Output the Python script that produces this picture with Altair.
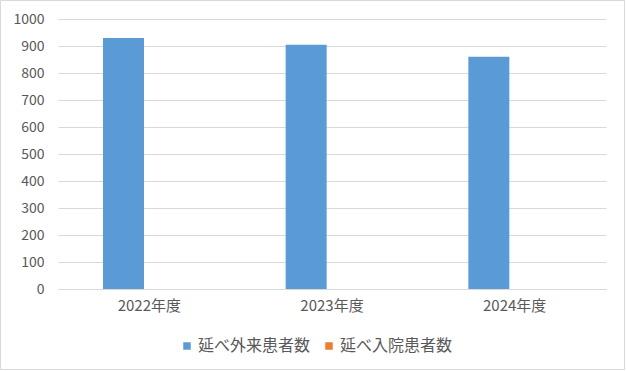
import altair as alt
import pandas as pd

years = ["2022年度", "2023年度", "2024年度"]
series = ["延べ外来患者数", "延べ入院患者数"]
outpatients = [930, 905, 860]
inpatients = [0, 0, 0]
colors = ["#5B9BD5", "#ED7D31"]

rows = []
for i, y in enumerate(years):
    rows.append({"year": y, "series": series[0], "value": outpatients[i]})
    rows.append({"year": y, "series": series[1], "value": inpatients[i]})
df = pd.DataFrame(rows)

FONT = "Noto Sans CJK JP"
TXT = "#595959"
GRID = "#D9D9D9"

bars = alt.Chart(df).mark_bar().encode(
    x=alt.X("year:N", sort=years, title=None,
            scale=alt.Scale(paddingInner=0, paddingOuter=0),
            axis=alt.Axis(labelAngle=0, ticks=False, domain=True, domainColor=GRID,
                          labelPadding=9, labelFontSize=15, labelColor=TXT, labelFont=FONT)),
    xOffset=alt.XOffset("series:N", sort=series,
                        scale=alt.Scale(range=[45, 127], paddingInner=0, paddingOuter=0)),
    y=alt.Y("value:Q", title=None,
            scale=alt.Scale(domain=[0, 1000], nice=False),
            axis=alt.Axis(values=list(range(0, 1001, 100)), format="d", ticks=False, domain=False,
                          grid=True, gridColor=GRID, labelPadding=14, labelFontSize=14,
                          labelColor=TXT, labelFont=FONT)),
    color=alt.Color("series:N", sort=series,
                    scale=alt.Scale(domain=series, range=colors),
                    legend=alt.Legend(title=None, orient="none", direction="horizontal",
                                      legendX=121, legendY=319, symbolType="square",
                                      symbolSize=56, symbolStrokeWidth=0, labelFontSize=16,
                                      labelColor=TXT, labelFont=FONT, labelOffset=3,
                                      columnPadding=10, padding=0)),
)

border = alt.Chart(pd.DataFrame({"a": [0]})).mark_rect(
    fill=None, stroke=GRID, strokeWidth=1
).encode(
    x=alt.value(-57.5), x2=alt.value(566.5),
    y=alt.value(-18.5), y2=alt.value(350.5),
)

chart = alt.layer(bars, border).properties(
    width=548, height=270,
    autosize=alt.AutoSizeParams(type="none"),
    padding={"left": 58, "top": 19, "right": 20, "bottom": 82},
    background="white",
).configure_view(stroke=None)

chart.save("out.html", embed_options={"renderer": "svg", "actions": False})
